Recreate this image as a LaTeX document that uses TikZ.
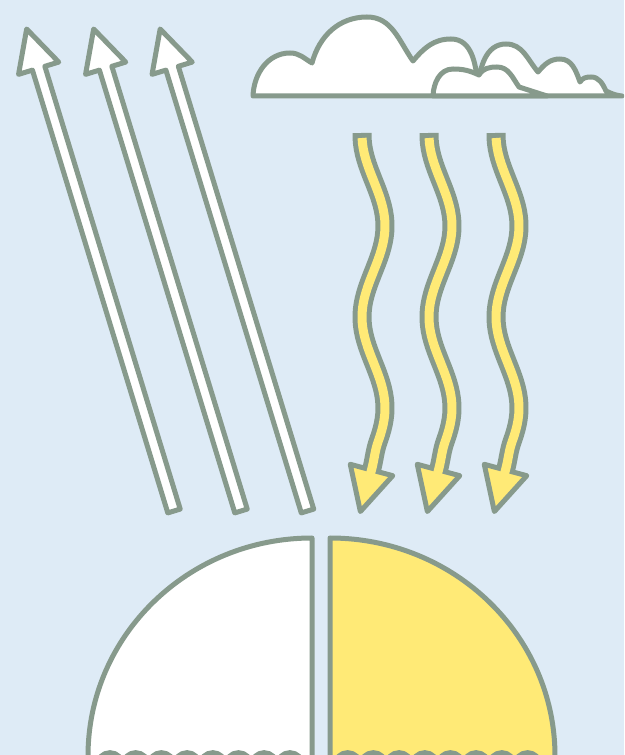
\documentclass[tikz,border=0pt]{standalone}
\usepackage{tikz}

\definecolor{sky}{RGB}{222,235,246}
\definecolor{edge}{RGB}{135,154,140}
\definecolor{sun}{RGB}{255,234,118}

\begin{document}
\begin{tikzpicture}[
    x=1pt, y=1pt, line join=round,
    outline/.style={draw=edge, line width=5pt},
    cloud/.style={outline, fill=white},
    beam/.style={outline, fill=white},
    ray/.style={draw=edge, line width=19pt},
    raycore/.style={draw=sun, line width=9pt},
    rayhead/.style={outline, fill=sun}
]
\useasboundingbox (0,0) rectangle (624,755);
\fill[sky] (0,0) rectangle (624,755);
\clip (0,0) rectangle (624,755);

% clouds: the long one behind, the small one in front
\draw[cloud] (253,659) to[out=88,in=180] (290,702) to[out=0,in=150] (312,692)
    to[out=75,in=180] (367,738) to[out=0,in=125] (413,694)
    to[out=50,in=180] (451,716) to[out=0,in=95] (478,668)
    to[out=85,in=180] (506,711) to[out=0,in=130] (538,683)
    to[out=50,in=180] (560,696) to[out=0,in=110] (580,673)
    to[out=60,in=180] (591,678) to[out=0,in=115] (606,664)
    to[out=-25,in=175] (622,659) -- cycle;
\draw[cloud] (433,659) to[out=88,in=180] (453,686) to[out=0,in=155] (479,680)
    to[out=60,in=180] (497,688) to[out=0,in=125] (519,668) -- (547,659) -- cycle;

% reflected light
\foreach \tx in {174,241,307.5}
  \draw[beam, shift={(\tx,244)}, rotate=17] (-6.5,0) -- (-6.5,463) -- (-21,463)
      -- (0,504) -- (21,463) -- (6.5,463) -- (6.5,0) -- cycle;

% incoming sunlight
\foreach \wx in {373.5,440.5,507.5} {
  \draw[ray] plot[domain=133:440, samples=60, variable=\t]
      ({\wx-11.5*cos((\t-135)/91*180)}, {755-\t}) to[out=250,in=75] (\wx-2,285);
  \draw[rayhead, shift={(\wx-2,285)}, rotate=-15] (-22,0) -- (22,0) -- (0,-43) -- cycle;
  \draw[raycore] plot[domain=138:440, samples=60, variable=\t]
      ({\wx-11.5*cos((\t-135)/91*180)}, {755-\t}) to[out=250,in=75] (\wx-2,285)
      -- ++(255:7pt);
}

% the two quarters of the ground
\draw[outline, fill=white] (312,-10.5) -- (312,217)
    arc[start angle=90, end angle=180, x radius=224, y radius=218]
    -- (88,-10.5) -- (97.15,-10.5)
    \foreach \k in {1,...,8} {arc[start angle=180, end angle=0, radius=12.85]}
    -- cycle;
\draw[outline, fill=sun] (330,-10.5) -- (330,217)
    arc[start angle=90, end angle=0, x radius=225, y radius=218]
    -- (555,-10.5) -- (540.4,-10.5)
    \foreach \k in {1,...,8} {arc[start angle=0, end angle=180, radius=12.85]}
    -- cycle;
\end{tikzpicture}
\end{document}
